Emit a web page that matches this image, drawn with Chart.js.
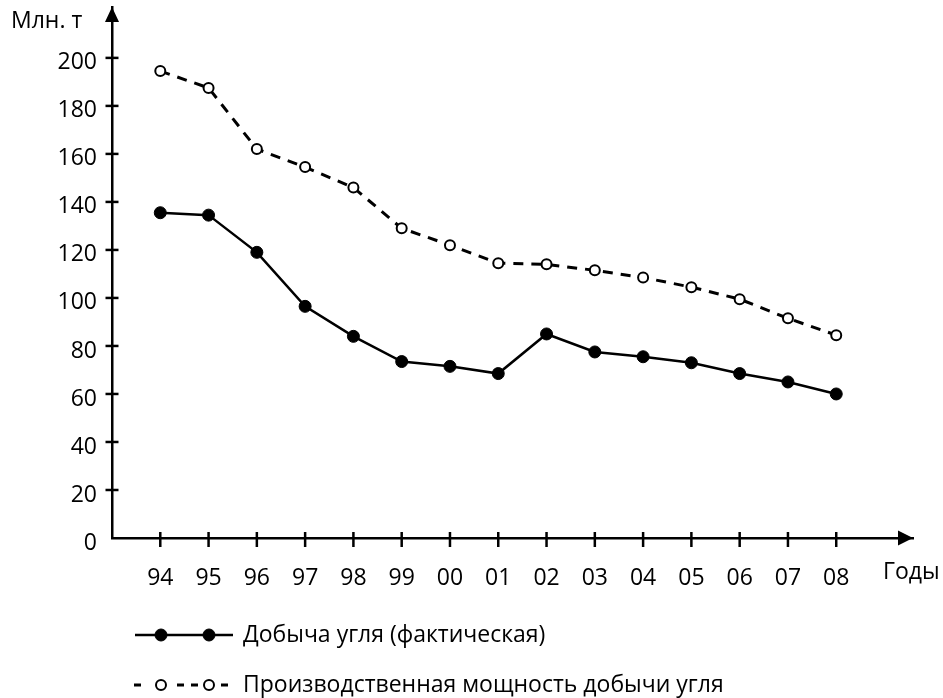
<!DOCTYPE html>
<html>
<head>
<meta charset="utf-8">
<script src="https://cdn.jsdelivr.net/npm/chart.js@4/dist/chart.umd.min.js"></script>
<style>
html,body{margin:0;padding:0;background:#fff;}
#wrap{width:943px;height:698px;position:relative;}
</style>
</head>
<body>
<div id="wrap"><canvas id="c" width="943" height="698"></canvas></div>
<script>
// ---- data ----
const years = ['94','95','96','97','98','99','00','01','02','03','04','05','06','07','08'];
const actualOutput = [135.5,134.5,119,96.5,84,73.5,71.5,68.5,85,77.5,75.5,73,68.5,65,60];
const productionCapacity = [194.5,187.5,162,154.5,146,129,122,114.5,114,111.5,108.5,104.5,99.5,91.5,84.5];
const yTickValues = [0,20,40,60,80,100,120,140,160,180,200];
const yAxisTitle = 'Млн. т';
const xAxisTitle = 'Годы';
const seriesNames = ['Добыча угля (фактическая)', 'Производственная мощность добычи угля'];

const FONT = '"Open Sans", "Noto Sans", sans-serif';
const FS = 23;

const toPoints = arr => arr.map((v, i) => ({x: i, y: v}));

const decorPlugin = {
  id: 'decor',
  afterDraw(chart) {
    const ctx = chart.ctx;
    const ca = chart.chartArea;
    const xs = chart.scales.x, ys = chart.scales.y;
    ctx.save();
    ctx.strokeStyle = '#000';
    ctx.fillStyle = '#000';
    ctx.lineWidth = 2.5;
    // y ticks (crossing axis)
    yTickValues.forEach(v => {
      if (v === 0) return;
      const py = ys.getPixelForValue(v);
      ctx.beginPath();
      ctx.moveTo(ca.left - 6.5, py);
      ctx.lineTo(ca.left + 6.5, py);
      ctx.stroke();
    });
    // x ticks
    years.forEach((_, i) => {
      const px = xs.getPixelForValue(i);
      ctx.beginPath();
      ctx.moveTo(px, ca.bottom - 6);
      ctx.lineTo(px, ca.bottom + 9);
      ctx.stroke();
    });
    // arrowheads
    ctx.beginPath();
    ctx.moveTo(ca.left, ca.top);
    ctx.lineTo(ca.left - 7, ca.top + 15);
    ctx.lineTo(ca.left + 7, ca.top + 15);
    ctx.closePath();
    ctx.fill();
    ctx.beginPath();
    ctx.moveTo(ca.right, ca.bottom);
    ctx.lineTo(ca.right - 15, ca.bottom - 7.5);
    ctx.lineTo(ca.right - 15, ca.bottom + 7.5);
    ctx.closePath();
    ctx.fill();
    // axis titles
    ctx.font = FS + 'px ' + FONT;
    ctx.textBaseline = 'middle';
    ctx.textAlign = 'left';
    ctx.fillText(yAxisTitle, 11, 21);
    ctx.fillText(xAxisTitle, ca.right - 30, 572);
    // legend
    const ds = chart.data.datasets;
    const rows = [635, 685];
    const segs = [
      [[135, 233]],
      [[134, 141], [177, 184], [191, 198], [221, 228]]
    ];
    ds.forEach((d, k) => {
      const y = rows[k];
      ctx.save();
      ctx.strokeStyle = d.borderColor;
      ctx.lineWidth = d.borderWidth;
      segs[k].forEach(s => {
        ctx.beginPath();
        ctx.moveTo(s[0], y);
        ctx.lineTo(s[1], y);
        ctx.stroke();
      });
      [161, 209].forEach(mx => {
        ctx.beginPath();
        ctx.arc(mx, y, d.pointRadius, 0, Math.PI * 2);
        ctx.fillStyle = d.pointBackgroundColor;
        ctx.fill();
        ctx.lineWidth = d.pointBorderWidth;
        ctx.strokeStyle = d.pointBorderColor;
        ctx.stroke();
      });
      ctx.restore();
      ctx.fillStyle = '#000';
      ctx.font = FS + 'px ' + FONT;
      ctx.textBaseline = 'middle';
      ctx.textAlign = 'left';
      ctx.fillText(seriesNames[k], 243, y);
    });
    ctx.restore();
  }
};

new Chart(document.getElementById('c'), {
  type: 'line',
  data: {
    datasets: [
      {
        label: seriesNames[0],
        data: toPoints(actualOutput),
        borderColor: '#000',
        borderWidth: 2.5,
        pointRadius: 6,
        pointBackgroundColor: '#000',
        pointBorderColor: '#000',
        pointBorderWidth: 1,
        tension: 0
      },
      {
        label: seriesNames[1],
        data: toPoints(productionCapacity),
        borderColor: '#000',
        borderWidth: 3,
        borderDash: [10, 8],
        pointRadius: 5,
        pointBackgroundColor: '#fff',
        pointBorderColor: '#000',
        pointBorderWidth: 2,
        tension: 0
      }
    ]
  },
  options: {
    responsive: false,
    animation: false,
    devicePixelRatio: 1,
    layout: { padding: { left: 0, top: 7, right: 30, bottom: 100 } },
    plugins: { legend: { display: false }, tooltip: { enabled: false } },
    scales: {
      x: {
        type: 'linear',
        min: -1,
        max: 15.59,
        afterBuildTicks: s => { s.ticks = years.map((_, i) => ({ value: i })); },
        afterFit: s => { s.height = 60; s.paddingLeft = 0; s.paddingRight = 0; },
        grid: { display: false, drawTicks: false },
        border: { display: true, color: '#000', width: 2.5 },
        ticks: {
          autoSkip: false, maxRotation: 0, padding: 27, color: '#000',
          font: { family: FONT, size: FS },
          callback: v => years[v] !== undefined ? years[v] : ''
        }
      },
      y: {
        min: 0,
        max: 221.2,
        afterBuildTicks: s => { s.ticks = yTickValues.map(v => ({ value: v })); },
        afterFit: s => { s.width = 112; s.paddingTop = 0; s.paddingBottom = 0; },
        grid: { display: false, drawTicks: false },
        border: { display: true, color: '#000', width: 2.5 },
        ticks: {
          padding: 15, color: '#000', labelOffset: 5,
          font: { family: FONT, size: FS }
        }
      }
    }
  },
  plugins: [decorPlugin]
});
</script>
</body>
</html>
